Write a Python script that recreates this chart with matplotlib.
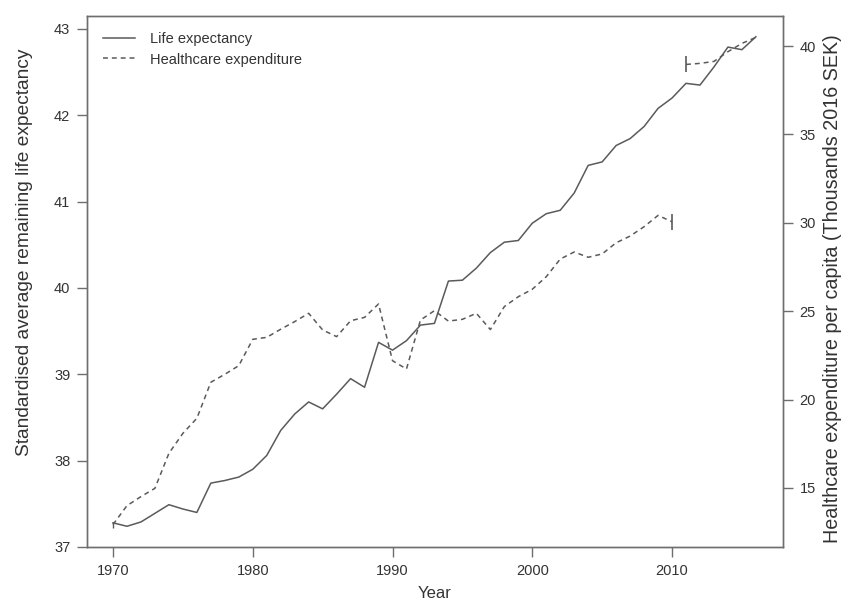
import matplotlib
matplotlib.use('Agg')
import matplotlib.pyplot as plt
from matplotlib.lines import Line2D

plt.rcParams.update({
    'font.family': ['Liberation Sans', 'DejaVu Sans'],
    'font.size': 10.5,
})

# ── Data ─────────────────────────────────────────────────────────────────────
years = list(range(1970, 2017))
life = [37.28, 37.24, 37.29, 37.39, 37.49, 37.44, 37.40, 37.74, 37.77, 37.81,
        37.90, 38.06, 38.35, 38.54, 38.68, 38.60, 38.77, 38.95, 38.85, 39.37,
        39.28, 39.39, 39.57, 39.59, 40.08, 40.09, 40.23, 40.41, 40.53, 40.55,
        40.75, 40.86, 40.90, 41.10, 41.42, 41.46, 41.65, 41.73, 41.87, 42.08,
        42.20, 42.37, 42.35, 42.56, 42.79, 42.76, 42.91]

# expenditure, old definition (1970-2010) and new definition (2011-2016)
exp_years_old = list(range(1970, 2011))
exp_old = [12.93, 14.00, 14.51, 14.98, 16.96, 18.09, 18.94, 20.98, 21.43, 21.92,
           23.41, 23.52, 23.98, 24.41, 24.88, 23.94, 23.56, 24.46, 24.65, 25.41,
           22.20, 21.73, 24.50, 25.03, 24.44, 24.54, 24.88, 23.96, 25.26, 25.82,
           26.24, 26.95, 27.95, 28.35, 28.05, 28.24, 28.87, 29.25, 29.78, 30.42,
           30.06]
exp_years_new = list(range(2011, 2017))
exp_new = [38.96, 39.02, 39.13, 39.68, 40.15, 40.49]

x_ticks = [1970, 1980, 1990, 2000, 2010]
left_ticks = [37, 38, 39, 40, 41, 42, 43]
right_ticks = [15, 20, 25, 30, 35, 40]

LINE = '#5a5a5a'
FRAME = '#6e6e6e'
TXT = '#333333'
DASH = (0, (3.2, 2.6))

fig = plt.figure(figsize=(8.5, 6.03), dpi=100, facecolor='white')
ax = fig.add_axes([87 / 850, 1 - 547 / 603, 696 / 850, 531 / 603])
ax2 = ax.twinx()

ax.plot(years, life, color=LINE, lw=1.1)
ax2.plot(exp_years_old, exp_old, color=LINE, lw=1.1, ls=DASH,
         marker='|', markevery=[-1], ms=11, mew=1.2)
ax2.plot(exp_years_old[:1], exp_old[:1], color=LINE, ls='none',
         marker='|', ms=5, mew=1.0)
ax2.plot(exp_years_new, exp_new, color=LINE, lw=1.1, ls=DASH,
         marker='|', markevery=[0], ms=11, mew=1.2)

ax.set_xlim(1968.14, 2017.94)
ax.set_ylim(37.01, 43.15)
ax2.set_ylim(11.66, 41.70)

ax.set_xticks(x_ticks)
ax.set_yticks(left_ticks)
ax2.set_yticks(right_ticks)

for a in (ax, ax2):
    for s in a.spines.values():
        s.set_color(FRAME)
        s.set_linewidth(1.0)
    a.tick_params(colors=FRAME, labelcolor=TXT, length=7, width=1.0,
                  labelsize=10.5, pad=5)

ax.set_xlabel('Year', fontsize=12, color=TXT, labelpad=6)
ax.set_ylabel('Standardised average remaining life expectancy',
              fontsize=13.8, color=TXT)
ax2.set_ylabel('Healthcare expenditure per capita (Thousands 2016 SEK)',
               fontsize=14.2, color=TXT)
ax.yaxis.set_label_coords(-0.077, 0.555)
ax2.yaxis.set_label_coords(1.057, 0.486)

handles = [Line2D([], [], color=LINE, lw=1.1),
           Line2D([], [], color=LINE, lw=1.1, ls=DASH)]
leg = ax.legend(handles, ['Life expectancy', 'Healthcare expenditure'],
                loc='upper left', bbox_to_anchor=(0.0, 1.0), frameon=False,
                fontsize=10.5, handlelength=2.2, handletextpad=1.0,
                labelspacing=0.45, borderaxespad=0.7)
for t in leg.get_texts():
    t.set_color(TXT)

fig.savefig('out.png', dpi=100, facecolor='white')
